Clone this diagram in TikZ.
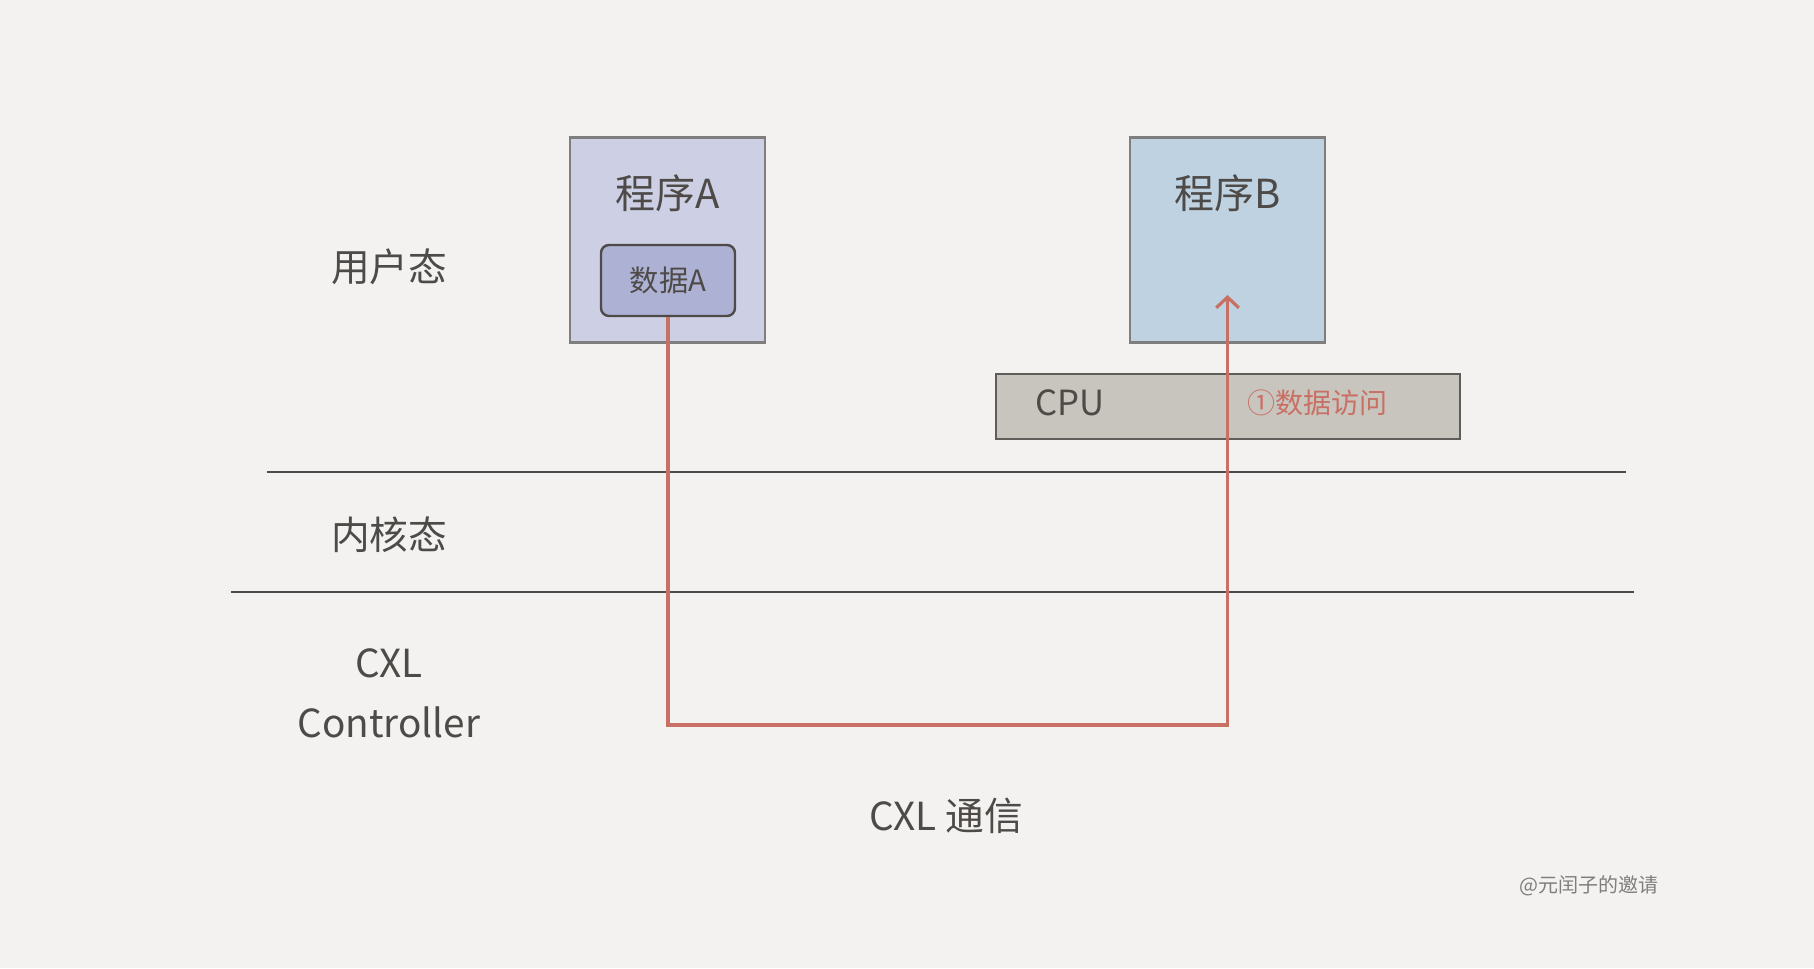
\documentclass[tikz,border=0pt]{standalone}
\usepackage{fontspec}
\setmainfont{Noto Sans CJK SC}
\usepackage{tikz}
\usetikzlibrary{arrows.meta}

\definecolor{paper}{RGB}{243,242,240}
\definecolor{ink}{RGB}{77,74,71}
\definecolor{edge}{RGB}{128,126,124}
\definecolor{progAfill}{RGB}{205,208,228}
\definecolor{datAfill}{RGB}{173,178,212}
\definecolor{progBfill}{RGB}{191,210,225}
\definecolor{cpufill}{RGB}{200,196,190}
\definecolor{accessred}{RGB}{200,112,100}

\tikzset{
  prog/.style={draw=edge, line width=2pt, inner sep=0pt, minimum width=146.25pt, minimum height=153.75pt},
  datbox/.style={draw=ink, line width=1.8pt, rounded corners=6pt, inner sep=0pt, minimum width=100.5pt, minimum height=53.25pt, fill=datAfill},
  cpubox/.style={draw=ink!90, line width=2pt, inner sep=0pt, minimum width=348pt, minimum height=48.75pt, fill=cpufill},
  title/.style={text=ink, inner sep=0.75pt, font=\fontsize{30}{36}\selectfont},
  layer/.style={text=ink, inner sep=0.75pt, font=\fontsize{29}{45}\selectfont, align=center},
  sep/.style={draw=ink, line width=1.4pt},
  flow/.style={draw=accessred, line width=2.4pt, -{Straight Barb[length=8pt,width=17pt]}}
}

\begin{document}
\begin{tikzpicture}[x=0.75pt,y=0.75pt,yscale=-1,xscale=1]
        \fill[paper] (0,0) rectangle (1814,968);
        \useasboundingbox (0,0) rectangle (1814,968);

        % layer separators
        \draw[sep] (267,472) -- (1626,472);
        \draw[sep] (231,592) -- (1634,592);

        % layer names
        \node (user) [layer] at (389,267) {用户态};
        \node (kernel) [layer] at (389,535) {内核态};
        \node (ctrl) [layer] at (389,693) {CXL\\Controller};

        % programs
        \node (progA) [prog, fill=progAfill] at (667.5,240) {};
        \node (progB) [prog, fill=progBfill] at (1227.5,240) {};
        \node (titleA) [title] at (667.5,193) {程序A};
        \node (titleB) [title] at (1227.5,193) {程序B};
        \node (datA) [datbox] at (668,280.5) {};
        \node (datAtext) [text=ink, font=\fontsize{22}{26}\selectfont] at (668,280) {数据A};

        % cpu
        \node (cpu) [cpubox] at (1228,406.5) {};
        \node (cpulabel) [text=ink, font=\fontsize{26}{30}\selectfont] at (1070,403) {CPU};
        \node (access) [text=accessred, font=\fontsize{21}{26}\selectfont] at (1317,403) {①数据访问};

        % data path
        \coordinate (tipB) at (1227.5,295);
        \draw[flow] (datA.south) |- (tipB |- 0,725) -- (tipB);

        \node (link) [layer] at (946,816) {CXL 通信};
        \node (mark) [text=edge, font=\fontsize{15}{18}\selectfont] at (1589,886) {@元闰子的邀请};
\end{tikzpicture}
\end{document}
